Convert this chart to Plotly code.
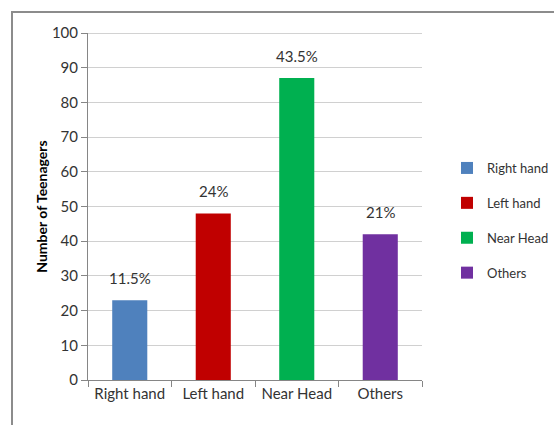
import plotly.graph_objects as go

categories = ["Right hand", "Left hand", "Near Head", "Others"]
values = [23, 48, 87, 42]
labels = ["11.5%", "24%", "43.5%", "21%"]
colors = ["#4F81BD", "#C00000", "#00B050", "#7030A0"]
y_ticks = list(range(0, 101, 10))

FONT = "Lato, Roboto, sans-serif"

fig = go.Figure()
for c, v, col in zip(categories, values, colors):
    fig.add_trace(go.Bar(
        x=[c], y=[v], name=c,
        marker=dict(color=col, line=dict(width=0)), width=0.42,
        legendgroup=c,
    ))

for c, v, t in zip(categories, values, labels):
    fig.add_annotation(x=c, y=v, text=t, showarrow=False, yanchor="bottom",
                       yshift=11, font=dict(size=15, color="#333333", family=FONT))

W, H = 554, 425
l, r, t, b = 88, 132, 33, 45
pw, ph = W - l - r, H - t - b

def px_x(p):
    return (p - l) / pw

def px_y(p):
    return (H - b - p) / ph

fig.update_layout(
    width=W, height=H,
    margin=dict(l=l, r=r, t=t, b=b),
    paper_bgcolor="white", plot_bgcolor="white",
    barmode="overlay",
    font=dict(family=FONT, size=15, color="#333333"),
    showlegend=True,
    legend=dict(xref="container", yref="container", x=447 / W, y=1 - 153 / H,
                xanchor="left", yanchor="top",
                font=dict(size=13, color="#333333", family=FONT),
                tracegroupgap=15, itemwidth=30, bgcolor="rgba(0,0,0,0)"),
    xaxis=dict(categoryorder="array", categoryarray=categories,
               showline=True, linecolor="#868686", linewidth=1,
               ticks="outside", tickson="boundaries", ticklen=6, tickcolor="#868686",
               tickangle=0, automargin=False,
               showgrid=False, tickfont=dict(size=15, color="#333333")),
    yaxis=dict(range=[0, 100], tickvals=y_ticks, showline=True, linecolor="#868686",
               linewidth=1, ticks="outside", ticklen=6, tickcolor="#868686",
               showgrid=True, gridcolor="#D0D0D0", gridwidth=1,
               zeroline=False, tickfont=dict(size=15, color="#333333"),
               automargin=False,
               title=dict(text="<b>Number of Teenagers</b>", font=dict(size=14, color="#000000", family=FONT),
                          standoff=0)),
    shapes=[
        dict(type="line", xref="paper", yref="y", x0=0, x1=1, y0=100, y1=100,
             line=dict(color="#A6A6A6", width=1)),
        dict(type="rect", xref="paper", yref="paper", x0=px_x(12), x1=px_x(620),
             y0=px_y(470), y1=px_y(12), line=dict(color="#8c8c8c", width=2),
             fillcolor="rgba(0,0,0,0)", layer="below"),
    ],
)

fig.write_html("out.html")
